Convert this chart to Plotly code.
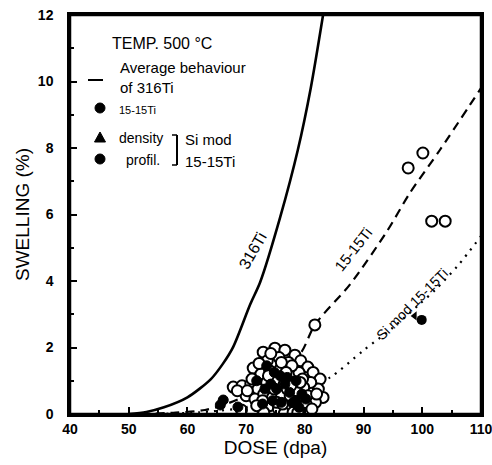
import plotly.graph_objects as go

# 316Ti average behaviour (solid)
dose_316 = [50, 53, 56, 60, 64, 66, 67.8, 70.7, 72.4, 75.8, 78.8, 81.0, 83.1]
swell_316 = [0.0, 0.06, 0.2, 0.5, 1.05, 1.5, 2.02, 3.3, 3.97, 5.92, 7.94, 9.8, 12.0]

# 15-15Ti (dashed)
dose_1515 = [52, 58, 63, 66.1, 70, 75, 79.4, 81.7, 87.7, 94.0, 97.9, 103.0, 110]
swell_1515 = [0.0, 0.04, 0.12, 0.27, 0.55, 1.05, 1.86, 2.68, 3.9, 5.5, 6.65, 7.94, 9.8]

# Si mod 15-15Ti (dotted)
dose_si = [55, 62, 68, 74, 79, 84.3, 89.9, 95, 99.5, 102.3, 106, 110]
swell_si = [0.0, 0.05, 0.15, 0.35, 0.65, 1.1, 1.9, 2.6, 3.3, 3.75, 4.45, 5.35]

# open circles (15-15Ti data)
open_dose = [72.9, 74.9, 76.6, 78.3, 73.6, 75.6, 77.2, 79.3,
             80.5, 81.4, 82.6, 83.1, 82.3, 81.0,
             71.2, 72.5, 74.0, 75.8, 77.5, 79.0,
             67.8, 69.3, 70.8, 72.0, 73.5, 75.0, 76.5, 78.0, 79.8,
             70.0, 71.5, 73.0, 74.5, 76.0, 77.5, 79.0, 80.5, 81.8,
             69.2, 72.5, 74.0, 75.5, 77.0, 78.5, 80.0, 76.5, 78.0,
             74.2, 76.0, 77.8, 72.2, 73.8, 76.8, 79.6, 80.2, 71.0,
             68.5, 70.2, 72.8, 74.8, 77.0, 78.6, 79.2, 81.2, 75.2,
             73.0, 76.2, 78.8, 71.8, 82.0, 77.6,
             81.7, 97.6, 100.1, 101.6, 103.9]
open_swell = [1.86, 1.98, 1.92, 1.77, 1.6, 1.7, 1.55, 1.6,
              1.41, 1.25, 1.05, 0.5, 0.75, 0.95,
              1.38, 1.2, 1.3, 1.35, 1.2, 1.25,
              0.81, 0.85, 0.9, 0.75, 0.95, 1.0, 0.9, 0.95, 0.8,
              0.55, 0.45, 0.6, 0.5, 0.6, 0.55, 0.5, 0.55, 0.35,
              0.12, 0.2, 0.25, 0.15, 0.1, 0.2, 0.15, 0.02, 0.05,
              1.82, 1.55, 1.45, 1.52, 1.15, 1.25, 1.05, 0.3, 1.05,
              0.7, 0.7, 0.4, 0.75, 0.75, 0.7, 0.95, 0.15, 0.35,
              0.05, 0.3, 0.05, 0.25, 0.6, 0.85,
              2.68, 7.4, 7.85, 5.8, 5.8]

# filled circles (15-15Ti)
fill_dose = [66.1, 65.6, 68.6, 74.5, 76.0, 78.5, 79.5, 75.2, 77.0, 73.5, 78.5, 74.2, 72.8,
             75.8, 77.4, 79.0, 73.2, 76.6, 78.0, 80.2, 74.8, 71.8]
fill_swell = [0.42, 0.27, 0.21, 0.4, 0.35, 0.4, 0.6, 0.75, 1.1, 1.45, 1.0, 0.9, 0.3,
              1.15, 0.65, 0.2, 0.75, 0.9, 0.35, 0.45, 1.25, 1.0]

# Si mod 15-15Ti: density (triangle) and profilometry (circle)
dens_dose = [98.7]
dens_swell = [2.95]
prof_dose = [99.9]
prof_swell = [2.83]

x_ticks = [40, 50, 60, 70, 80, 90, 100, 110]
y_ticks = [0, 2, 4, 6, 8, 10, 12]

FONT = "Liberation Sans"
fig = go.Figure()

fig.add_trace(go.Scatter(x=dose_316, y=swell_316, mode="lines", line=dict(color="black", width=2.6, shape="spline", smoothing=0.8)))
fig.add_trace(go.Scatter(x=dose_1515, y=swell_1515, mode="lines", line=dict(color="black", width=2.2, dash="9px,6px", shape="spline", smoothing=0.8)))
fig.add_trace(go.Scatter(x=dose_si, y=swell_si, mode="lines", line=dict(color="black", width=2.2, dash="2px,6px", shape="spline", smoothing=0.8)))

fig.add_trace(go.Scatter(x=open_dose, y=open_swell, mode="markers",
                         marker=dict(symbol="circle", size=11, color="white", line=dict(color="black", width=2))))
fig.add_trace(go.Scatter(x=fill_dose, y=fill_swell, mode="markers",
                         marker=dict(symbol="circle", size=10, color="black", line=dict(color="black", width=1))))
fig.add_trace(go.Scatter(x=dens_dose, y=dens_swell, mode="markers",
                         marker=dict(symbol="triangle-left", size=8, color="black")))
fig.add_trace(go.Scatter(x=prof_dose, y=prof_swell, mode="markers",
                         marker=dict(symbol="circle", size=10, color="black")))

ann = []
def txt(x, y, s, size=15, angle=0, xanchor="left", ref="paper"):
    ann.append(dict(x=x, y=y, xref="x" if ref == "data" else "paper", yref="y" if ref == "data" else "paper",
                    text=s, showarrow=False, textangle=angle, xanchor=xanchor, yanchor="middle",
                    font=dict(family=FONT, size=size, color="black")))

def px(xp):
    return (xp - 70) / 411.0
def py(yp):
    return (414 - yp) / 399.0

txt(px(110), py(43), "TEMP. 500 °C", size=16)
txt(px(118), py(67), "Average behaviour", size=15)
txt(px(118), py(87), "of 316Ti", size=15)
txt(px(117), py(110), "15-15Ti", size=11)
txt(px(117), py(138), "density", size=14)
txt(px(124), py(160), "profil.", size=14)
txt(px(183), py(139), "Si mod", size=15)
txt(px(183), py(161), "15-15Ti", size=15)

txt(71.0, 4.9, "316Ti", size=16, angle=-60, xanchor="center", ref="data")
txt(88.2, 4.95, "15-15Ti", size=15, angle=-52, xanchor="center", ref="data")
txt(98.3, 3.3, "Si mod 15-15Ti", size=14, angle=-45, xanchor="center", ref="data")

def circ(cx, cy, r):
    return dict(type="circle", xref="paper", yref="paper", x0=px(cx - r), x1=px(cx + r),
                y0=py(cy + r), y1=py(cy - r), fillcolor="black", line=dict(color="black", width=1))

shapes = [
    dict(type="rect", xref="paper", yref="paper", x0=0, x1=1, y0=0, y1=1,
         line=dict(color="black", width=2.5), layer="above"),
    dict(type="line", xref="paper", yref="paper", x0=px(88), x1=px(103), y0=py(80), y1=py(80),
         line=dict(color="black", width=2)),
    circ(100, 108, 5),
    circ(100, 159, 5),
    dict(type="path", xref="paper", yref="paper",
         path="M %f %f L %f %f L %f %f Z" % (px(94.5), py(142), px(105.5), py(142), px(100), py(132)),
         fillcolor="black", line=dict(color="black", width=1)),
    dict(type="line", xref="paper", yref="paper", x0=px(177), x1=px(177), y0=py(135), y1=py(165),
         line=dict(color="black", width=2)),
    dict(type="line", xref="paper", yref="paper", x0=px(172), x1=px(177), y0=py(135), y1=py(135),
         line=dict(color="black", width=1.5)),
    dict(type="line", xref="paper", yref="paper", x0=px(172), x1=px(177), y0=py(165), y1=py(165),
         line=dict(color="black", width=1.5)),
]

fig.update_layout(
    width=492, height=465,
    margin=dict(l=70, r=11, t=15, b=51, autoexpand=False),
    paper_bgcolor="white", plot_bgcolor="white",
    showlegend=False,
    annotations=ann,
    shapes=shapes,
    xaxis=dict(range=[40, 110], tickvals=x_ticks, ticktext=[str(v) for v in x_ticks], automargin=False,
               ticklabeloverflow="allow",
               ticks="inside", ticklen=7, tickwidth=1.5, tickcolor="black",
               minor=dict(dtick=5, ticks="inside", ticklen=4, tickcolor="black"),
               showline=True, linecolor="black", linewidth=2.5, mirror=True, showgrid=False, zeroline=False,
               tickfont=dict(family=FONT, size=14, color="black", weight="bold"),
               title=dict(text="DOSE (dpa)", font=dict(family=FONT, size=19, color="black"), standoff=4)),
    yaxis=dict(range=[0, 12], tickvals=y_ticks, ticktext=[str(v) for v in y_ticks], automargin=False,
               ticklabeloverflow="allow",
               ticks="inside", ticklen=7, tickwidth=1.5, tickcolor="black",
               minor=dict(dtick=1, ticks="inside", ticklen=4, tickcolor="black"),
               showline=True, linecolor="black", linewidth=2.5, mirror=True, showgrid=False, zeroline=False,
               tickfont=dict(family=FONT, size=14, color="black", weight="bold"),
               ticklabelstandoff=11,
               title=dict(text="SWELLING (%)", font=dict(family=FONT, size=19, color="black"), standoff=4)),
)

fig.write_html("out.html", config={"displayModeBar": False},
               post_script="document.body.style.margin='0';")
